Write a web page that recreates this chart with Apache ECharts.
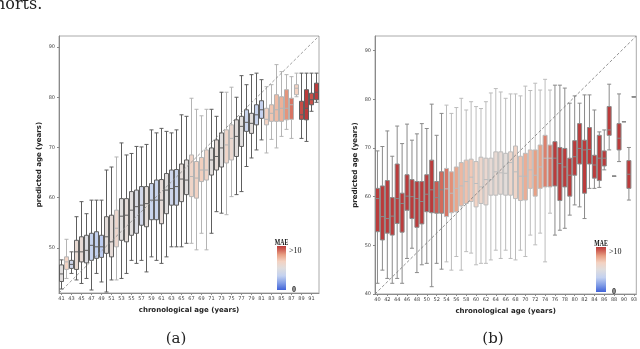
<!DOCTYPE html>
<html>
<head>
<meta charset="utf-8">
<script src="https://cdn.jsdelivr.net/npm/echarts@6/dist/echarts.min.js"></script>
<style>
  html, body { margin: 0; padding: 0; background: #fff; }
  #main { width: 640px; height: 349px; }
</style>
</head>
<body>
<div id="main"></div>
<script>
// (a) ages 41..92
var agesA = [41,42,43,44,45,46,47,48,49,50,51,52,53,54,55,56,57,58,59,60,61,62,63,64,65,66,67,68,69,70,
  71,72,73,74,75,76,77,78,79,80,81,82,83,84,85,86,87,88,89,90,91,92]
var minA = [41.8,43.9,44.9,43.6,42.9,43.9,41.6,44.9,43.2,41.2, 43.6,43.6,43.9,44.9,47.5,46.9,47.5,45.2,48.2,47.5,
  46.9,48.2,50.2,50.2,50.2,50.9,50.9,49.6,52.9,49.6, 52.9,57.2,56.9,56.6,60.2,60.6,61.2,66.2,67.9,69.5,
  71.5,68.9,71.6,69.9,72.2,73.6,71.8,80.1,71.8,71.2, 77.2,79.0]
var q1A = [43.3,45.7,45.9,45.7,47.2,47.0,47.5,47.9,48.1,48.9, 48.2,50.2,51.5,51.2,52.5,52.9,54.5,54.2,55.6,55.6,
  54.8,56.8,58.5,58.5,59.2,60.6,60.2,59.9,63.2,63.5, 64.5,65.5,66.1,66.9,67.5,68.2,70.2,73.2,72.8,74.5,
  75.8,74.5,75.2,75.2,75.2,75.5,75.6,80.5,75.6,75.5, 78.5,79.5]
var medA = [44.8,47.2,46.7,49.2,49.2,49.5,50.5,50.2,50.2,52.2, 51.2,53.9,56.3,56.5,57.5,58.2,58.5,58.8,59.5,59.5,
  59.5,61.5,61.8,62.2,63.7,63.5,64.2,63.9,65.5,65.5, 67.5,68.2,69.9,70.5,71.8,72.2,74.2,75.0,74.8,76.5,
  77.5,75.6,76.8,77.5,77.8,77.8,78.5,81.8,76.5,77.8, 79.5,81.0]
var q3A = [46.6,48.2,47.5,51.5,52.2,52.5,52.9,53.2,52.5,56.2, 56.5,57.5,59.8,59.8,61.2,61.5,62.2,62.2,62.8,63.5,
  63.6,64.8,65.5,65.6,66.7,67.5,68.5,67.2,68.0,69.5, 69.9,71.5,72.9,73.5,74.5,75.5,76.2,77.5,76.8,78.5,
  79.3,77.8,78.5,80.5,80.1,81.5,79.8,82.5,79.2,81.5, 80.8,82.8]
var maxA = [47.6,51.7,49.2,56.2,59.2,56.8,59.5,59.5,59.5,65.5, 66.1,68.1,70.9,68.5,68.8,70.2,70.1,70.6,73.5,72.9,
  73.8,73.2,72.9,73.5,76.5,76.2,79.8,77.6,76.3,77.6, 77.6,76.2,81.0,81.0,82.0,80.0,84.3,82.5,84.5,84.8,
  83.5,82.1,82.5,86.5,85.1,84.5,84.1,84.8,84.8,84.8, 84.8,84.8]
var maeA = [5.0,6.4,3.8,5.6,5.5,4.7,3.4,3.2,3.0,5.2, 5.4,5.9,5.0,5.3,5.0,4.5,4.0,5.2,3.6,3.6,
  5.4,5.0,3.8,3.6,5.2,5.0,6.2,6.4,6.6,6.2, 5.1,5.4,5.0,6.1,5.8,5.1,5.0,3.6,5.1,3.5,
  3.3,6.4,6.9,7.2,7.5,8.2,8.8,6.5,9.6,10, 9.5,10]

// (b) ages 40..91, 93
var agesB = [40,41,42,43,44,45,46,47,48,49,50,51,52,53,54,55,56,57,58,59,60,61,62,63,64,65,66,67,68,69,
  70,71,72,73,74,75,76,77,78,79,80,81,82,83,84,85,86,87,88,89,90,91,93]
var minB = [42.2,44.9,43.2,42.2,43.2,42.2,47.3,49.4,44.4,46.0, 46.3,41.5,46.3,45.1,46.6,44.9,47.7,44.9,48.7,48.4,
  46.0,46.3,46.3,47.0,49.0,47.3,49.0,47.3,47.0,49.0, 47.7,52.1,50.1,52.5,46.6,56.6,52.1,53.1,53.5,56.2,
  58.3,57.9,55.5,61.7,61.7,61.9,65.5,69.6,64.2,67.2, 75.4,59.3,80.5]
var q1B = [52.8,51.1,52.5,52.1,54.5,52.7,57.2,55.5,53.7,54.4, 56.9,56.7,56.6,56.6,55.9,56.7,56.9,58.1,58.6,59.0,
  57.9,58.6,58.3,60.3,60.3,60.5,60.3,60.3,59.6,59.2, 59.3,61.7,60.1,61.7,62.0,62.0,62.2,59.2,62.0,60.1,
  64.4,66.7,60.7,66.7,63.8,63.3,66.3,72.6,64.2,69.6, 75.4,61.7,80.5]
var medB = [59.6,55.9,55.5,56.0,59.6,58.6,60.1,60.0,59.6,59.0, 60.5,61.4,59.8,61.4,61.6,60.7,61.7,62.2,63.1,64.0,
  62.7,62.0,63.5,63.5,65.1,64.9,64.8,67.0,65.1,64.2, 64.2,65.5,64.4,66.1,67.9,67.9,67.9,66.8,66.1,64.4,
  68.2,69.9,69.6,69.7,66.5,67.9,67.9,73.7,64.2,72.0, 75.4,64.6,80.5]
var q3B = [61.7,62.2,63.3,59.8,66.7,60.7,64.5,63.5,63.1,63.1, 64.5,67.5,63.1,65.1,65.8,65.1,66.1,67.0,67.5,67.7,
  67.2,68.1,67.9,67.9,69.2,69.2,68.9,69.2,70.4,68.3, 68.9,69.6,69.6,70.6,72.6,70.6,71.3,70.1,69.9,67.9,
  71.5,75.0,71.6,74.2,68.5,72.6,69.4,78.5,64.2,75.0, 75.4,67.4,80.5]
var maxB = [69.4,70.3,73.5,68.3,74.5,70.9,74.9,71.6,72.9,75.0, 74.0,79.0,72.6,77.1,78.8,77.1,78.3,80.2,77.8,79.5,
  78.5,78.1,79.5,81.3,82.2,81.5,80.2,81.1,81.1,80.7, 82.7,81.8,83.3,81.9,84.1,81.9,82.9,82.9,82.3,79.2,
  80.7,79.2,80.9,80.9,77.8,73.3,73.7,83.1,64.2,81.1, 75.4,70.1,80.5]
var maeB = [10,10,10,10,10,10,10,10,10,10, 10,10,9.3,9.0,8.8,8.3,7.8,7.3,7.0,6.8,
  6.4,6.0,5.8,5.5,5.6,5.5,5.2,6.0,6.2,7.0, 7.6,7.2,8.0,8.0,8.6,8.8,10,10,10,10,
  10,10,10,10,10,10,10,10,10,10, 10,10,10]

var yTicks = [40, 50, 60, 70, 80, 90]

// MAE colour map (blue = 0, grey, red = >10)
var maeStops = [[0, '#3f62d8'], [0.15, '#7f9be6'], [0.32, '#c3d1f0'], [0.5, '#e0dddd'],
  [0.65, '#f3d2c2'], [0.8, '#e8a084'], [0.92, '#cf6054'], [1, '#bb3b3b']]

function hexToRgb(h) {
  return [parseInt(h.substr(1, 2), 16), parseInt(h.substr(3, 2), 16), parseInt(h.substr(5, 2), 16)]
}

function maeColor(v) {
  var t = Math.max(0, Math.min(1, v / 10))
  for (var i = 1; i < maeStops.length; i++) {
    if (t <= maeStops[i][0]) {
      var a = maeStops[i - 1], b = maeStops[i]
      var f = (t - a[0]) / (b[0] - a[0])
      var ca = hexToRgb(a[1]), cb = hexToRgb(b[1])
      var c = [0, 1, 2].map(function (k) { return Math.round(ca[k] + (cb[k] - ca[k]) * f) })
      return 'rgb(' + c.join(',') + ')'
    }
  }
  return maeStops[maeStops.length - 1][1]
}

// pale boxes get pale whiskers, the rest darker ones
function boxData(mins, q1s, meds, q3s, maxs, maes, dark, light, lo) {
  var out = []
  for (var i = 0; i < mins.length; i++) {
    var pale = maes[i] >= lo && maes[i] < 9
    out.push({
      value: [mins[i], q1s[i], meds[i], q3s[i], maxs[i]],
      itemStyle: { color: maeColor(maes[i]), borderColor: pale ? light : dark }
    })
  }
  return out
}

// colour bar + labels
function colorBar(x, y, w, h) {
  var stops = maeStops.map(function (s) { return { offset: 1 - s[0], color: s[1] } }).reverse()
  return [
    { type: 'rect', shape: { x: x, y: y, width: w, height: h },
      style: { fill: new echarts.graphic.LinearGradient(0, 0, 0, 1, stops) } },
    { type: 'text', x: x + w / 2, y: y - 3.5, scaleX: 0.72,
      style: { text: 'MAE', font: 'bold 8px "Liberation Serif"', fill: '#111', align: 'center', verticalAlign: 'middle' } },
    { type: 'text', x: x + w + 3, y: y + 5,
      style: { text: '>10', font: '8px "Liberation Serif"', fill: '#111', align: 'left', verticalAlign: 'middle' } },
    { type: 'text', x: x + w + 6, y: y + h,
      style: { text: '0', font: 'bold 8px "Liberation Serif"', fill: '#111', align: 'left', verticalAlign: 'middle' } }
  ]
}

var dom = document.getElementById('main')
var myChart = echarts.init(dom, null, { renderer: 'canvas' })

var yMinA = 41, yMaxA = 92.2
var yMinB = 40, yMaxB = 93

function catAxis(grid, data) {
  return {
    type: 'category', gridIndex: grid, data: data,
    axisLine: { lineStyle: { color: '#8a8a8a', width: 1 } },
    axisTick: { show: true, length: 2, interval: 1, alignWithLabel: true, lineStyle: { color: '#8a8a8a' } },
    axisLabel: { interval: 1, fontSize: 5, color: '#444', margin: 3, fontFamily: 'DejaVu Sans' },
    name: 'chronological age (years)', nameLocation: 'middle', nameGap: 14,
    nameTextStyle: { fontSize: 7, fontWeight: 'bold', color: '#222', fontFamily: 'DejaVu Sans' }
  }
}

function valAxisX(grid, mn, mx) {
  return { type: 'value', gridIndex: grid, min: mn, max: mx, show: false }
}

function valAxisY(grid, mn, mx) {
  var ticks = yTicks.filter(function (t) { return t >= mn })
  return {
    type: 'value', gridIndex: grid, min: mn, max: mx,
    splitLine: { show: false },
    axisLine: { show: true, lineStyle: { color: '#8a8a8a', width: 1 } },
    axisTick: { show: true, length: 2, customValues: ticks, lineStyle: { color: '#8a8a8a' } },
    axisLabel: { fontSize: 5, color: '#444', margin: 4, fontFamily: 'DejaVu Sans', customValues: ticks },
    name: 'predicted age (years)', nameLocation: 'middle', nameGap: 16,
    nameTextStyle: { fontSize: 7, fontWeight: 'bold', color: '#222', fontFamily: 'DejaVu Sans' }
  }
}

var option = {
  animation: false,
  backgroundColor: '#fff',
  grid: [
    { left: 59, right: 321, top: 36, bottom: 56, show: true, borderColor: '#aaa', borderWidth: 1 },
    { left: 375, right: 2, top: 36, bottom: 55, show: true, borderColor: '#aaa', borderWidth: 1 }
  ],
  xAxis: [catAxis(0, agesA), valAxisX(0, yMinA, yMaxA), catAxis(1, agesB), valAxisX(1, yMinB, yMaxB)],
  yAxis: [valAxisY(0, yMinA, yMaxA), valAxisY(1, yMinB, yMaxB)],
  series: [
    {
      type: 'boxplot', xAxisIndex: 0, yAxisIndex: 0, boxWidth: [4, 4],
      itemStyle: { borderWidth: 1 },
      data: boxData(minA, q1A, medA, q3A, maxA, maeA, '#5e5e5e', '#b4b4b4', 5.7)
    },
    {
      type: 'line', xAxisIndex: 1, yAxisIndex: 0, symbol: 'none', silent: true,
      lineStyle: { color: '#888', width: 0.8, type: [3, 2] },
      data: [[yMinA, yMinA], [yMaxA, yMaxA]]
    },
    {
      type: 'boxplot', xAxisIndex: 2, yAxisIndex: 1, boxWidth: [4, 4],
      itemStyle: { borderWidth: 1 },
      data: boxData(minB, q1B, medB, q3B, maxB, maeB, '#8a8a8a', '#bcbcbc', 0)
    },
    {
      type: 'line', xAxisIndex: 3, yAxisIndex: 1, symbol: 'none', silent: true,
      lineStyle: { color: '#777', width: 0.8, type: [3, 2] },
      data: [[yMinB, yMinB], [yMaxB, yMaxB]]
    }
  ],
  graphic: [
    { type: 'text', x: -5, y: 5,
      style: { text: 'horts.', font: '16px "DejaVu Serif"', fill: '#222', verticalAlign: 'middle' } },
    { type: 'text', x: 176, y: 339,
      style: { text: '(a)', font: '15px "DejaVu Serif"', fill: '#222', align: 'center', verticalAlign: 'middle' } },
    { type: 'text', x: 493, y: 339,
      style: { text: '(b)', font: '15px "DejaVu Serif"', fill: '#222', align: 'center', verticalAlign: 'middle' } }
  ].concat(colorBar(277, 246, 9, 44)).concat(colorBar(596, 247, 10, 45))
}

myChart.setOption(option)
window.addEventListener('resize', myChart.resize)
</script>
</body>
</html>
